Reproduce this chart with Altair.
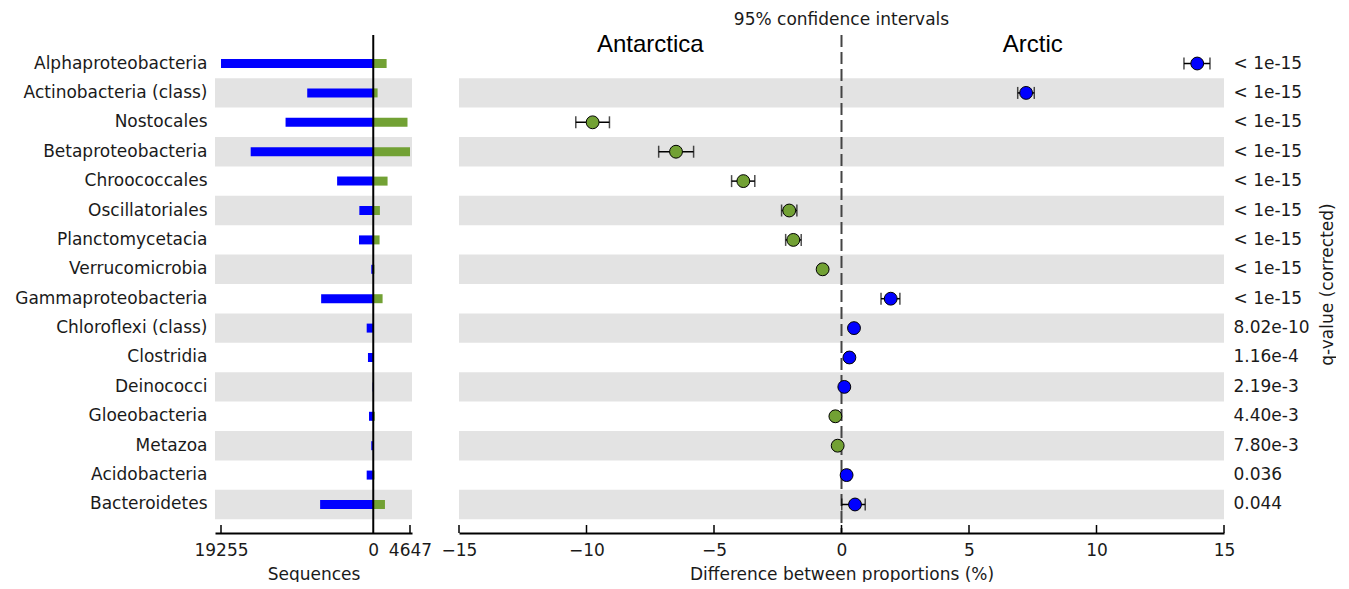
import json
import altair as alt
import pandas as pd

# ---------------- data ----------------
categories = [
    "Alphaproteobacteria", "Actinobacteria (class)", "Nostocales", "Betaproteobacteria",
    "Chroococcales", "Oscillatoriales", "Planctomycetacia", "Verrucomicrobia",
    "Gammaproteobacteria", "Chloroflexi (class)", "Clostridia", "Deinococci",
    "Gloeobacteria", "Metazoa", "Acidobacteria", "Bacteroidetes",
]
arctic_seqs = [19255, 8350, 11090, 15500, 4570, 1760, 1800, 250, 6590, 830, 670, 80, 540, 250, 830, 6720]
antarctic_seqs = [1690, 550, 4330, 4647, 1810, 840, 800, 150, 1180, 30, 20, 10, 200, 20, 150, 1480]
diff_pct = [13.95, 7.24, -9.76, -6.49, -3.85, -2.05, -1.89, -0.74, 1.93, 0.49, 0.31, 0.11, -0.24, -0.15, 0.20, 0.53]
ci_low = [13.43, 6.91, -10.42, -7.17, -4.31, -2.35, -2.19, -0.84, 1.55, 0.39, 0.21, 0.03, -0.34, -0.25, 0.08, 0.01]
ci_high = [14.45, 7.56, -9.10, -5.80, -3.40, -1.75, -1.58, -0.64, 2.29, 0.59, 0.41, 0.19, -0.14, -0.05, 0.32, 0.93]
q_values = ["< 1e-15"] * 9 + ["8.02e-10", "1.16e-4", "2.19e-3", "4.40e-3", "7.80e-3", "0.036", "0.044"]
group_names = ["Antarctica", "Arctic"]
ci_title_text = ["95% confidence intervals"]
seq_ticks = [-19255, 4647]
seq_labels = [-19255, 0, 4647]
diff_ticks = [-15, -10, -5, 0, 5, 10, 15]

GREEN = "#72a134"
BLUE = "#0000ff"
BAND = "#e3e3e3"
TXT = "#1a1a1a"
FONT = "DejaVu Sans"

W_L, W_R, H = 197, 765, 498

df = pd.DataFrame({
    "cat": categories,
    "arctic": arctic_seqs,
    "antarctic": antarctic_seqs,
    "diff": diff_pct,
    "lo": ci_low,
    "hi": ci_high,
})
df["neg"] = -df["arctic"]
df["band"] = [i % 2 == 1 for i in range(len(categories))]
df["side"] = [group_names[1] if d > 0 else group_names[0] for d in diff_pct]

yscale = alt.Scale(domain=categories, paddingInner=0, paddingOuter=0.47)

# ---------------- left panel ----------------
xl_scale = alt.Scale(domain=[-20014, 4900], nice=False, zero=False)
xl_axis = alt.Axis(values=seq_labels, labelExpr="format(abs(datum.value), 'd')",
                   title="Sequences", ticks=False, grid=False, domainColor="black",
                   domainWidth=2, labelPadding=9, titlePadding=8, labelFlush=False,
                   labelOverlap=False)
yl = alt.Y("cat:N", scale=yscale,
           axis=alt.Axis(title=None, ticks=False, domain=False, labelPadding=8, labelLimit=400))

base_l = alt.Chart(df)
bands_l = base_l.transform_filter("datum.band").mark_rect(color=BAND).encode(
    y=yl, x=alt.value(0), x2=alt.value(W_L))
blue_bars = base_l.mark_bar(color=BLUE, size=9).encode(
    y=yl, x=alt.X("neg:Q", scale=xl_scale, axis=xl_axis, stack=None), x2=alt.datum(0))
green_bars = base_l.mark_bar(color=GREEN, size=9).encode(
    y=yl, x=alt.X("antarctic:Q", scale=xl_scale, axis=xl_axis, stack=None), x2=alt.datum(0))
zero_l = alt.Chart(pd.DataFrame({"z": [0]})).mark_rule(color="black", strokeWidth=2).encode(
    x=alt.X("z:Q", scale=xl_scale, axis=xl_axis))
ticks_l = alt.Chart(pd.DataFrame({"t": seq_ticks})).mark_rule(color="black", strokeWidth=1.5).encode(
    x=alt.X("t:Q", scale=xl_scale, axis=xl_axis), y=alt.value(H - 8), y2=alt.value(H))

left = alt.layer(bands_l, blue_bars, green_bars, zero_l, ticks_l).properties(width=W_L, height=H)

# ---------------- right panel ----------------
xr_scale = alt.Scale(domain=[diff_ticks[0], diff_ticks[-1]], nice=False, zero=False)
xr_axis = alt.Axis(values=diff_ticks, title="Difference between proportions (%)", ticks=False,
                   grid=False, domainColor="black", domainWidth=2, labelPadding=9,
                   titlePadding=8, labelFlush=False, labelOverlap=False)
q_expr = f"{json.dumps(q_values)}[indexof({json.dumps(categories)}, datum.value)]"
yr = alt.Y("cat:N", scale=yscale,
           axis=alt.Axis(orient="right", title="q-value (corrected)", ticks=False, domain=False,
                         labelPadding=9, labelLimit=400, labelExpr=q_expr, titleAngle=270,
                         titleBaseline="top", titlePadding=10))

base_r = alt.Chart(df)
bands_r = base_r.transform_filter("datum.band").mark_rect(color=BAND).encode(
    y=yr, x=alt.value(0), x2=alt.value(W_R))
zero_r = alt.Chart(pd.DataFrame({"z": [0]})).mark_rule(
    color="#444444", strokeWidth=2, strokeDash=[12, 5]).encode(
    x=alt.X("z:Q", scale=xr_scale, axis=xr_axis))
err = base_r.mark_rule(color="black", strokeWidth=1.5).encode(
    y=yr, x=alt.X("lo:Q", scale=xr_scale, axis=xr_axis), x2="hi:Q")
caps = base_r.transform_fold(["lo", "hi"], as_=["k", "v"]).mark_tick(
    orient="vertical", size=12, thickness=1.5, color="black").encode(
    y=yr, x=alt.X("v:Q", scale=xr_scale, axis=xr_axis))
pts = base_r.mark_circle(size=165, opacity=1, stroke="black", strokeWidth=1).encode(
    y=yr, x=alt.X("diff:Q", scale=xr_scale, axis=xr_axis),
    fill=alt.Fill("side:N", scale=alt.Scale(domain=group_names, range=[GREEN, BLUE]), legend=None))
ticks_r = alt.Chart(pd.DataFrame({"t": diff_ticks})).mark_rule(color="black", strokeWidth=1.5).encode(
    x=alt.X("t:Q", scale=xr_scale, axis=xr_axis), y=alt.value(H - 8), y2=alt.value(H))

# group labels centred in each half of the difference axis
grp_df = pd.DataFrame({"name": group_names,
                       "mid": [diff_ticks[0] / 2, diff_ticks[-1] / 2]})
grp_labels = alt.Chart(grp_df).mark_text(
    font="Liberation Sans", fontSize=24, baseline="alphabetic", align="center", color="black"
).encode(x=alt.X("mid:Q", scale=xr_scale, axis=xr_axis), y=alt.value(17), text="name:N")

ci_df = pd.DataFrame({"t": ci_title_text, "z": [0]})
ci_title = alt.Chart(ci_df).mark_text(
    font=FONT, fontSize=17, baseline="alphabetic", align="center", color=TXT
).encode(x=alt.X("z:Q", scale=xr_scale, axis=xr_axis), y=alt.value(-10), text="t:N")

right = alt.layer(bands_r, zero_r, err, caps, pts, ticks_r, grp_labels, ci_title).properties(
    width=W_R, height=H)

chart = alt.hconcat(left, right, spacing=47, bounds="flush").properties(
    padding={"left": 6, "right": 0, "top": 3, "bottom": 0}
).configure_axis(
    labelFont=FONT, titleFont=FONT, labelFontSize=17, titleFontSize=17,
    titleFontWeight="normal", labelColor=TXT, titleColor=TXT, grid=False
).configure_view(stroke=None)

chart.save("out.html", embed_options={"renderer": "svg", "actions": False})
